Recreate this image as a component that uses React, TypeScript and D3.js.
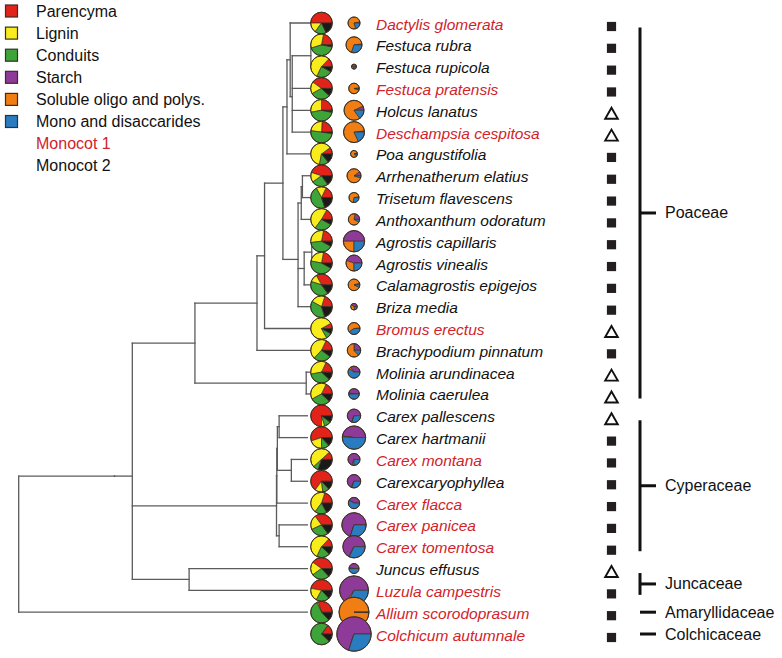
import React from "react";
import * as d3 from "d3";

// ---------- DATA ----------
const species = [
  "Dactylis glomerata", "Festuca rubra", "Festuca rupicola", "Festuca pratensis",
  "Holcus lanatus", "Deschampsia cespitosa", "Poa angustifolia", "Arrhenatherum elatius",
  "Trisetum flavescens", "Anthoxanthum odoratum", "Agrostis capillaris", "Agrostis vinealis",
  "Calamagrostis epigejos", "Briza media", "Bromus erectus", "Brachypodium pinnatum",
  "Molinia arundinacea", "Molinia caerulea", "Carex pallescens", "Carex hartmanii",
  "Carex montana", "Carexcaryophyllea", "Carex flacca", "Carex panicea", "Carex tomentosa",
  "Juncus effusus", "Luzula campestris", "Allium scorodoprasum", "Colchicum autumnale",
];
const monocotGroup = [1,2,2,1,2,1,2,2,2,2,2,2,2,2,1,2,2,2,2,2,1,2,1,1,1,2,1,1,1];
const symbolType = ["s","s","s","s","t","t","s","s","s","s","s","s","s","s","t","s","t","t","t","s","s","s","s","s","s","t","s","s","s"];

// structural tissue fractions (%)
const parenchyma = [50,22,13,40,25,24,10,45,18,17,22,22,33,20,8,18,18,18,75,55,12,65,20,35,13,40,47,30,15];
const lignin     = [15,33,55,18,28,24,62,15,15,48,30,25,12,22,75,45,35,40,5,20,50,12,45,22,55,20,20,2,0];
const conduits   = [17,42,24,30,44,50,14,25,47,27,40,45,40,38,9,27,35,30,10,12,8,10,18,28,20,27,20,55,73];
const otherTissue= [18,3,8,12,3,2,14,15,20,8,8,8,15,20,8,10,12,12,10,13,30,13,17,15,12,13,13,13,12];

// non-structural carbohydrate fractions (%) and total
const starch  = [3,2,50,2,7,2,5,10,3,22,50,45,5,40,2,25,35,47,70,48,70,68,42,70,68,48,65,0.5,70];
const soluble = [77,68,20,93,78,80,85,85,70,70,25,30,88,40,58,62,5,3,0,1,5,2,0,0,0,2,3,99,0];
const mono    = [20,30,30,5,15,18,10,5,27,8,25,25,7,20,40,13,60,50,30,51,25,30,58,30,32,50,32,0.5,30];
const nscTotal= [36,64,6.3,28,100,110,12,49,25,32,114,64,34,11,36,45,36,28,45,137,36,45,32,149,125,25,210,225,296];

const families = ["Poaceae", "Cyperaceae", "Juncaceae", "Amaryllidaceae", "Colchicaceae"];
const familyFirst = [0, 18, 25, 27, 28];
const familyLast  = [17, 24, 26, 27, 28];

const legendLabels = ["Parencyma", "Lignin", "Conduits", "Starch", "Soluble oligo and polys.", "Mono and disaccarides", "Monocot 1", "Monocot 2"];

const newick =
  "(((((((((Dactylis_glomerata:12.0,((Festuca_rubra:4.9,Festuca_rupicola:4.9):6.4,Festuca_pratensis:11.3,Holcus_lanatus:11.3,Deschampsia_cespitosa:11.3):0.7):1.1,Poa_angustifolia:13.1):1.4," +
  "(((Arrhenatherum_elatius:7.8,Trisetum_flavescens:7.8):0.4,Anthoxanthum_odoratum:8.2):1.1,((Agrostis_capillaris:4.6,Agrostis_vinealis:4.6):2.6,Calamagrostis_epigejos:7.2):2.1,Briza_media:9.3):5.2):6.3," +
  "Bromus_erectus:20.8):2.6,Brachypodium_pinnatum:23.4):21.3,(Molinia_arundinacea:6.5,Molinia_caerulea:6.5):38.2):21.5," +
  "((((Carex_pallescens:9.7,Carex_hartmanii:9.7):0.6,(Carex_montana:5.5,Carexcaryophyllea:5.5):4.8):0.2,Carex_flacca:10.5):0.1,(Carex_panicea:9.7,Carex_tomentosa:9.7):0.9):49.5," +
  "(Juncus_effusus:40.6,Luzula_campestris:40.6):19.5):6.1):32.9,Allium_scorodoprasum:99.1):0.9,Colchicum_autumnale:100);";

// ---------- COLORS ----------
const cRed = "#e2231a", cYellow = "#f8ec1c", cGreen = "#3da43a", cBlack = "#1a1a1a";
const cPurple = "#8e3a98", cOrange = "#f07e12", cBlue = "#2a7cc1";
const structColors = [cRed, cYellow, cGreen, cBlack];
const nscColors = [cPurple, cOrange, cBlue];
const legendColors = [cRed, cYellow, cGreen, cPurple, cOrange, cBlue];
const labelRed = "#d2232a";

type TNode = { name: string; len: number; children: TNode[]; depth?: number; y?: number };

function parseNewick(s: string): TNode {
  let i = 0;
  function node(): TNode {
    const n: TNode = { name: "", len: 0, children: [] };
    if (s[i] === "(") {
      i++;
      n.children.push(node());
      while (s[i] === ",") { i++; n.children.push(node()); }
      i++;
    }
    let name = "";
    while (i < s.length && !",():;".includes(s[i])) name += s[i++];
    n.name = name.replace(/_/g, " ");
    if (s[i] === ":") {
      i++;
      let num = "";
      while (i < s.length && !",();".includes(s[i])) num += s[i++];
      n.len = +num;
    }
    return n;
  }
  return node();
}

const FONT = "'Liberation Sans', Arial, Helvetica, sans-serif";

export default function App() {
  const W = 782, H = 658;
  const rowY = d3.scaleLinear().domain([0, species.length - 1]).range([23, 634]);
  const xTree = d3.scaleLinear().domain([0, 100]).range([18.7, 310]);
  const rScale = d3.scaleSqrt().domain([0, d3.max(nscTotal)!]).range([0, 17.2]);
  const pie1X = 321.5, pie2X = 354, r1 = 10.8, labelX = 376, symX = 611.5, famX = 640;

  // tree
  const root = parseNewick(newick);
  const segs: { x1: number; y1: number; x2: number; y2: number }[] = [];
  (function setDepth(n: TNode, d: number) {
    n.depth = d;
    n.children.forEach((c) => setDepth(c, d + c.len));
  })(root, 0);
  (function setY(n: TNode): number {
    if (n.children.length === 0) {
      n.y = rowY(species.indexOf(n.name));
    } else {
      const ys = n.children.map(setY);
      n.y = d3.mean(ys)!;
    }
    return n.y!;
  })(root);
  (function collect(n: TNode) {
    if (n.children.length) {
      const ys = n.children.map((c) => c.y!);
      segs.push({ x1: xTree(n.depth!), y1: d3.min(ys)!, x2: xTree(n.depth!), y2: d3.max(ys)! });
      n.children.forEach((c) => {
        segs.push({ x1: xTree(n.depth!), y1: c.y!, x2: xTree(c.depth!), y2: c.y! });
        collect(c);
      });
    }
  })(root);

  const pieGen = d3.pie<number>().sort(null).value((d) => d).startAngle(Math.PI / 2).endAngle(Math.PI / 2 - 2 * Math.PI);
  const arc1 = d3.arc<d3.PieArcDatum<number>>().innerRadius(0).outerRadius(r1);

  return (
    <div style={{ position: "absolute", left: 0, top: 0, width: W, height: H, background: "#fff" }}>
      <svg width={W} height={H} style={{ display: "block", fontFamily: FONT }}>
        {/* legend */}
        {legendLabels.map((lab, i) => {
          const y = 11 + i * 22.1;
          return (
            <g key={lab}>
              {i < 6 && (
                <rect x={5.5} y={y - 6} width={12} height={12} fill={legendColors[i]} stroke="#3a2e25" strokeWidth={1.2} />
              )}
              <text x={36} y={y} dominantBaseline="central" fontSize={16}
                fill={i === 6 ? labelRed : "#111"}>{lab}</text>
            </g>
          );
        })}

        {/* tree */}
        <g stroke="#5b5b5b" strokeWidth={1.3} strokeLinecap="square">
          {segs.map((s, i) => (
            <line key={i} x1={s.x1} y1={s.y1} x2={s.x2} y2={s.y2} />
          ))}
        </g>

        {/* pies column 1 */}
        {species.map((sp, i) => {
          const vals = [parenchyma[i], lignin[i], conduits[i], otherTissue[i]];
          const arcs = pieGen(vals);
          return (
            <g key={"p1" + sp} transform={`translate(${pie1X},${rowY(i)})`}>
              {arcs.map((a, j) => (
                <path key={j} d={arc1(a)!} fill={structColors[j]} stroke="#3b3022" strokeWidth={0.7} />
              ))}
              <circle r={r1} fill="none" stroke="#3b3022" strokeWidth={1} />
            </g>
          );
        })}

        {/* pies column 2 */}
        {species.map((sp, i) => {
          const vals = [starch[i], soluble[i], mono[i]];
          const arcs = pieGen(vals);
          const r = rScale(nscTotal[i]);
          const arc2 = d3.arc<d3.PieArcDatum<number>>().innerRadius(0).outerRadius(r);
          return (
            <g key={"p2" + sp} transform={`translate(${pie2X},${rowY(i)})`}>
              {arcs.map((a, j) => (
                <path key={j} d={arc2(a)!} fill={nscColors[j]} stroke="#3b3022" strokeWidth={0.7} />
              ))}
              <circle r={r} fill="none" stroke="#3b3022" strokeWidth={1} />
            </g>
          );
        })}

        {/* species labels */}
        {species.map((sp, i) => (
          <text key={"l" + sp} x={labelX} y={rowY(i) + 1} dominantBaseline="central" fontSize={15.5}
            fontStyle="italic" fill={monocotGroup[i] === 1 ? labelRed : "#111"}>{sp}</text>
        ))}

        {/* symbols */}
        {species.map((sp, i) => {
          const y = rowY(i) + 3.5;
          return symbolType[i] === "s" ? (
            <rect key={"s" + sp} x={symX - 4.6} y={y - 4.6} width={9.2} height={9.2} fill="#231f20" />
          ) : (
            <path key={"s" + sp} d={`M${symX},${y - 6} L${symX + 6.3},${y + 5} L${symX - 6.3},${y + 5} Z`}
              fill="#fff" stroke="#111" strokeWidth={1.9} strokeLinejoin="miter" />
          );
        })}

        {/* family brackets */}
        {families.map((f, k) => {
          const multi = familyLast[k] > familyFirst[k];
          const y0 = rowY(familyFirst[k]) + (multi ? 4.5 : 0);
          const y1 = rowY(familyLast[k]) + (multi ? 4.5 : 0);
          const ym = (y0 + y1) / 2;
          return (
            <g key={f}>
              {multi && <line x1={famX} x2={famX} y1={y0} y2={y1} stroke="#111" strokeWidth={3} />}
              <line x1={famX} x2={famX + 16} y1={ym} y2={ym} stroke="#111" strokeWidth={3} />
              <text x={665} y={ym} dominantBaseline="central" fontSize={16} fill="#111">{f}</text>
            </g>
          );
        })}
      </svg>
    </div>
  );
}
